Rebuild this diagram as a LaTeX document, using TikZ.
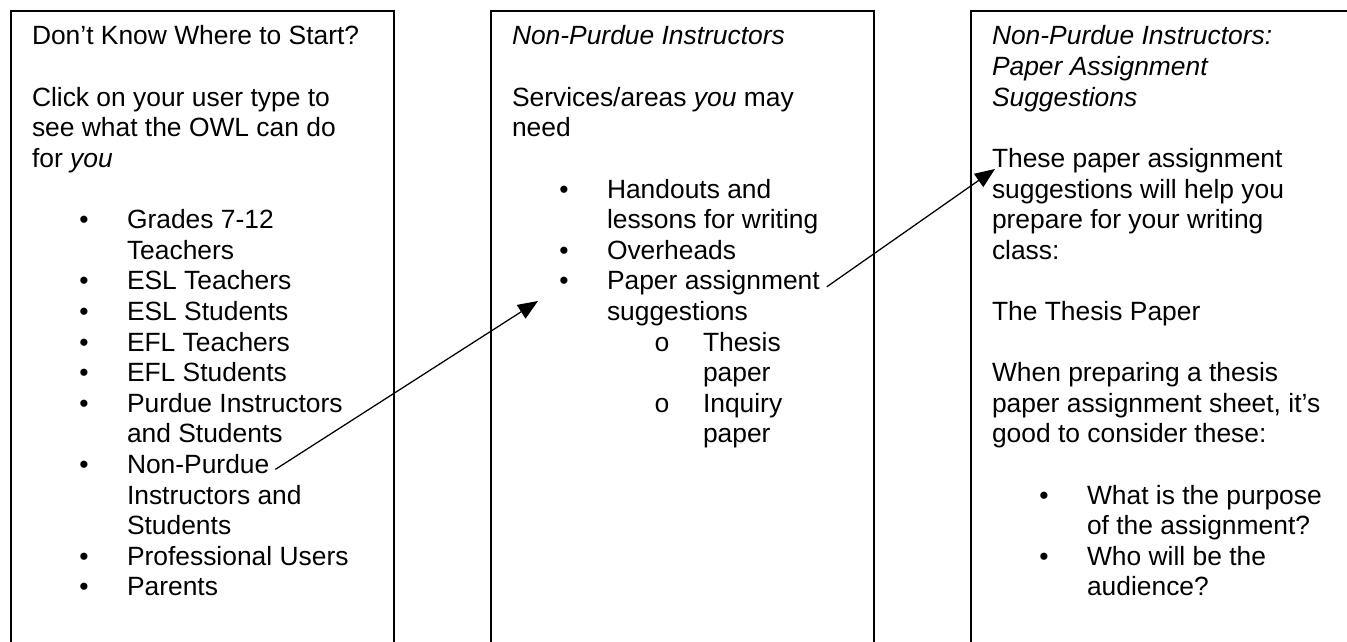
\documentclass[tikz,border=0pt]{standalone}
\usepackage{fontspec}
\setmainfont{Liberation Sans}
\newfontfamily\circfont{Liberation Mono}
\usetikzlibrary{arrows.meta,calc}
\begin{document}
\begin{tikzpicture}[x=0.75pt,y=-0.75pt,
  txt/.style={anchor=base west,inner sep=0pt,outer sep=0pt,font=\fontsize{19.8}{23}\selectfont},
  bul/.style={anchor=base,inner sep=0pt,outer sep=0pt,font=\fontsize{19.8}{23}\selectfont},
  sub/.style={anchor=base,inner sep=0pt,outer sep=0pt,font=\circfont\fontsize{19.8}{23}\selectfont},
  panel/.style={draw=black,line width=1.2pt},
  link/.style={draw=black,line width=0.95pt,-{Triangle[length=15pt,width=12pt]}}]
\useasboundingbox (0,0) rectangle (1347,642);
\clip (0,0) rectangle (1347,642);
% panels
\draw[panel] (11,700) -- (11,11) -- (394,11) -- (394,700);
\draw[panel] (491,700) -- (491,11) -- (874,11) -- (874,700);
\draw[panel] (971,700) -- (971,11) -- (1365,11) -- (1365,700);
% left column
\node[txt] (l0) at (32,{45+30.6*0}) {Don’t Know Where to Start?};
\node[txt] (l2) at (32,{45+30.6*2}) {Click on your user type to};
\node[txt] (l3) at (32,{45+30.6*3}) {see what the OWL can do};
\node[txt] (l4) at (32,{45+30.6*4}) {for \textit{you}};
\foreach \n/\k in {6/a,8/b,9/c,10/d,11/e,12/f,14/g,17/h,18/i}
  \node[bul] (lb\k) at (84,{45+30.6*\n}) {•};
\node[txt] (l6) at (127,{45+30.6*6}) {Grades 7-12};
\node[txt] (l7) at (127,{45+30.6*7}) {Teachers};
\node[txt] (l8) at (127,{45+30.6*8}) {ESL Teachers};
\node[txt] (l9) at (127,{45+30.6*9}) {ESL Students};
\node[txt] (l10) at (127,{45+30.6*10}) {EFL Teachers};
\node[txt] (l11) at (127,{45+30.6*11}) {EFL Students};
\node[txt] (l12) at (127,{45+30.6*12}) {Purdue Instructors};
\node[txt] (l13) at (127,{45+30.6*13}) {and Students};
\node[txt] (l14) at (127,{45+30.6*14}) {Non-Purdue};
\node[txt] (l15) at (127,{45+30.6*15}) {Instructors and};
\node[txt] (l16) at (127,{45+30.6*16}) {Students};
\node[txt] (l17) at (127,{45+30.6*17}) {Professional Users};
\node[txt] (l18) at (127,{45+30.6*18}) {Parents};
% middle column
\node[txt] (m0) at (512,{45+30.6*0}) {\textit{Non-Purdue Instructors}};
\node[txt] (m2) at (512,{45+30.6*2}) {Services/areas \textit{you} may};
\node[txt] (m3) at (512,{45+30.6*3}) {need};
\foreach \n/\k in {5/a,7/b,8/c}
  \node[bul] (mb\k) at (564,{45+30.6*\n}) {•};
\node[txt] (m5) at (607,{45+30.6*5}) {Handouts and};
\node[txt] (m6) at (607,{45+30.6*6}) {lessons for writing};
\node[txt] (m7) at (607,{45+30.6*7}) {Overheads};
\node[txt] (m8) at (607,{45+30.6*8}) {Paper assignment};
\node[txt] (m9) at (607,{45+30.6*9}) {suggestions};
\node[sub] (ms1) at (662,{45+30.6*10}) {o};
\node[sub] (ms2) at (662,{45+30.6*12}) {o};
\node[txt] (m10) at (703,{45+30.6*10}) {Thesis};
\node[txt] (m11) at (703,{45+30.6*11}) {paper};
\node[txt] (m12) at (703,{45+30.6*12}) {Inquiry};
\node[txt] (m13) at (703,{45+30.6*13}) {paper};
% right column
\node[txt] (r0) at (992,{45+30.6*0}) {\textit{Non-Purdue Instructors:}};
\node[txt] (r1) at (992,{45+30.6*1}) {\textit{Paper Assignment}};
\node[txt] (r2) at (992,{45+30.6*2}) {\textit{Suggestions}};
\node[txt] (r4) at (992,{45+30.6*4}) {These paper assignment};
\node[txt] (r5) at (992,{45+30.6*5}) {suggestions will help you};
\node[txt] (r6) at (992,{45+30.6*6}) {prepare for your writing};
\node[txt] (r7) at (992,{45+30.6*7}) {class:};
\node[txt] (r9) at (992,{45+30.6*9}) {The Thesis Paper};
\node[txt] (r11) at (992,{45+30.6*11}) {When preparing a thesis};
\node[txt] (r12) at (992,{45+30.6*12}) {paper assignment sheet, it’s};
\node[txt] (r13) at (992,{45+30.6*13}) {good to consider these:};
\node[bul] (rba) at (1044,{45+30.6*15}) {•};
\node[bul] (rbb) at (1044,{45+30.6*17}) {•};
\node[txt] (r15) at (1087,{45+30.6*15}) {What is the purpose};
\node[txt] (r16) at (1087,{45+30.6*16}) {of the assignment?};
\node[txt] (r17) at (1087,{45+30.6*17}) {Who will be the};
\node[txt] (r18) at (1087,{45+30.6*18}) {audience?};
% connectors
\coordinate (s1) at ($(l14.base east)+(6,-4)$);
\coordinate (t1) at (538,301);
\coordinate (s2) at ($(m8.base east)+(7,-3)$);
\coordinate (t2) at (995,169);
\draw[link] (s1) -- (t1);
\draw[link] (s2) -- (t2);
\end{tikzpicture}
\end{document}
